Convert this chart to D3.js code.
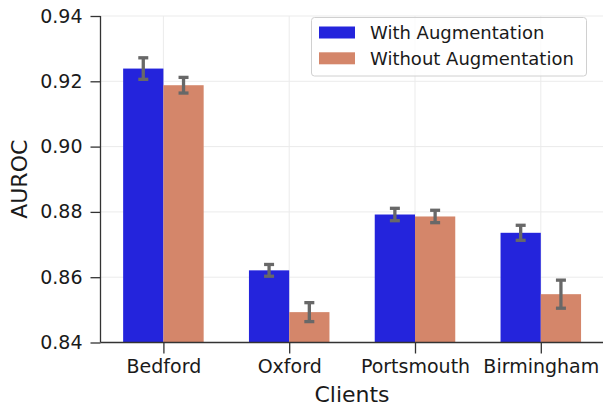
<!DOCTYPE html>
<html>
<head>
<meta charset="utf-8">
<script src="https://cdn.jsdelivr.net/npm/d3@7"></script>
<style>
  html, body { margin: 0; padding: 0; background: #fff; }
  svg { display: block; font-family: "DejaVu Sans", sans-serif; }
</style>
</head>
<body>
<svg id="chart" width="603" height="405"></svg>
<script>
const categories = ["Bedford", "Oxford", "Portsmouth", "Birmingham"];
const seriesNames = ["With Augmentation", "Without Augmentation"];
const withAug = [0.9239, 0.8621, 0.8792, 0.8736];
const withAugErr = [0.0033, 0.0018, 0.0019, 0.0023];
const withoutAug = [0.9188, 0.8493, 0.8786, 0.8548];
const withoutAugErr = [0.0024, 0.0029, 0.0019, 0.0043];
const yTicks = [0.84, 0.86, 0.88, 0.90, 0.92, 0.94];
const colors = ["#2424dc", "#d4866a"];

(function () {
const svg = d3.select("#chart");
const pL = 100.5, pR = 603.7, pT = 16, pB = 342.5;

const x = d3.scaleLinear().domain([-0.5, 3.5]).range([pL, pR]);
const y = d3.scaleLinear().domain([0.84, 0.94]).range([pB, pT]);
const barW = 0.32;

// grid
const g = svg.append("g");
g.selectAll(".hgrid").data(yTicks).enter().append("line")
  .attr("x1", pL).attr("x2", pR)
  .attr("y1", d => y(d)).attr("y2", d => y(d))
  .attr("stroke", "#ebebeb").attr("stroke-width", 1);
g.selectAll(".vgrid").data(categories).enter().append("line")
  .attr("x1", (d, i) => x(i)).attr("x2", (d, i) => x(i))
  .attr("y1", pT).attr("y2", pB)
  .attr("stroke", "#ebebeb").attr("stroke-width", 1);

const series = [
  { vals: withAug, errs: withAugErr, off: -barW / 2, color: colors[0] },
  { vals: withoutAug, errs: withoutAugErr, off: barW / 2, color: colors[1] }
];

series.forEach(s => {
  svg.append("g").selectAll("rect").data(s.vals).enter().append("rect")
    .attr("x", (d, i) => x(i + s.off - barW / 2))
    .attr("width", (d, i) => x(i + s.off + barW / 2) - x(i + s.off - barW / 2))
    .attr("y", d => y(d))
    .attr("height", d => pB - y(d))
    .attr("fill", s.color);
});

series.forEach(s => {
  const eg = svg.append("g").attr("stroke", "#686868").attr("stroke-width", 3.3);
  s.vals.forEach((v, i) => {
    const cx = x(i + s.off);
    const e = s.errs[i];
    eg.append("line").attr("x1", cx).attr("x2", cx).attr("y1", y(v - e)).attr("y2", y(v + e));
    eg.append("line").attr("x1", cx - 5).attr("x2", cx + 5).attr("y1", y(v - e)).attr("y2", y(v - e));
    eg.append("line").attr("x1", cx - 5).attr("x2", cx + 5).attr("y1", y(v + e)).attr("y2", y(v + e));
  });
});

// axes
const yAxis = d3.axisLeft(y).tickValues(yTicks).tickFormat(d3.format(".2f")).tickSize(10).tickPadding(8);
const ya = svg.append("g").attr("transform", `translate(${pL},0)`).call(yAxis);
ya.select(".domain").attr("stroke", "#333").attr("stroke-width", 1.3).attr("d", `M0,${pB}V${pT}`);
ya.selectAll(".tick line").attr("stroke", "#333").attr("stroke-width", 1.3);
ya.selectAll(".tick text").attr("font-size", "19px").attr("fill", "#1a1a1a").attr("font-family", "DejaVu Sans");

const xAxis = d3.axisBottom(x).tickValues(d3.range(categories.length)).tickFormat(i => categories[i]).tickSize(11).tickPadding(6);
const xa = svg.append("g").attr("transform", `translate(0,${pB})`).call(xAxis);
xa.select(".domain").attr("stroke", "#333").attr("stroke-width", 1.3).attr("d", `M${pL},0H${pR}`);
xa.selectAll(".tick line").attr("stroke", "#333").attr("stroke-width", 1.3);
xa.selectAll(".tick text").attr("font-size", "19px").attr("fill", "#1a1a1a").attr("font-family", "DejaVu Sans");

svg.append("text").attr("x", 352).attr("y", 402)
  .attr("text-anchor", "middle").attr("font-size", "22px").attr("fill", "#1a1a1a").text("Clients");
svg.append("text").attr("transform", `translate(27,${(pT + pB) / 2}) rotate(-90)`)
  .attr("text-anchor", "middle").attr("font-size", "22px").attr("fill", "#1a1a1a").text("AUROC");

// legend
const lg = svg.append("g");
lg.append("rect").attr("x", 311.5).attr("y", 17.5).attr("width", 275).attr("height", 58.5)
  .attr("rx", 3).attr("fill", "#fff").attr("fill-opacity", 0.8).attr("stroke", "#d0d0d0").attr("stroke-width", 1);
seriesNames.forEach((n, i) => {
  const cy = 32.5 + i * 25.8;
  lg.append("rect").attr("x", 319).attr("y", cy - 6).attr("width", 36).attr("height", 12).attr("fill", colors[i]);
  lg.append("text").attr("x", 370).attr("y", cy + 6.5).attr("font-size", "18px").attr("fill", "#1a1a1a").text(n);
});
})();
</script>
</body>
</html>
